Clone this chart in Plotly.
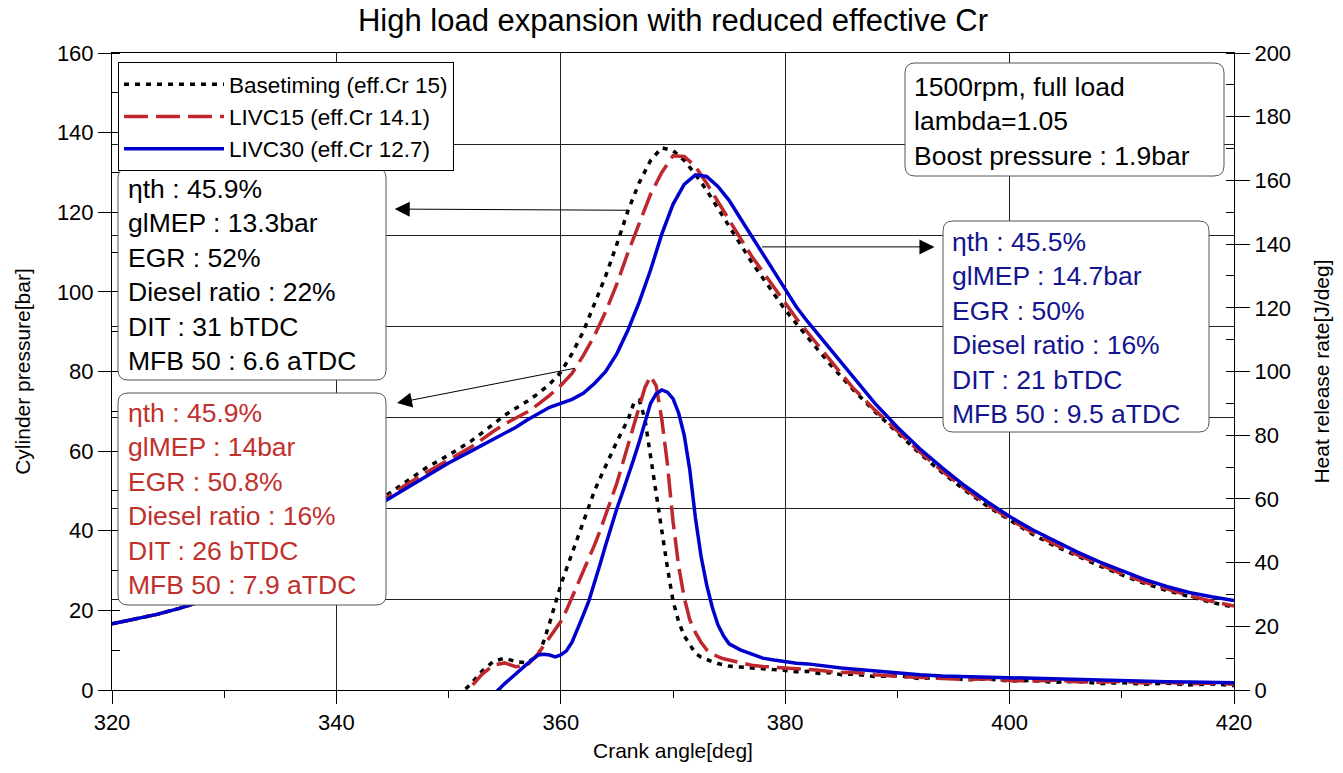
import plotly.graph_objects as go

# ---- cylinder pressure [bar] vs crank angle [deg]
crank_p = ([320, 322, 324, 326, 328, 330, 332, 334, 336, 338, 340, 342, 344, 346, 348, 350, 352, 354]
           + list(range(355, 387))
           + [388, 390, 392, 394, 396, 398, 400, 402, 404, 406, 408, 410, 412, 414, 416, 418, 420])

p_base = [16.6, 17.7, 19.0, 20.5, 22.2, 24.1, 26.3, 28.8, 31.7, 35.0, 38.7, 43.0, 48.0, 52.0, 55.8, 59.0, 62.5, 66.8,
          69.0, 70.8, 72.5, 74.5, 76.8, 79.8, 84.5, 90.0, 97.0, 104.0, 112.0, 120.5, 127.5, 133.0, 136.2, 135.5,
          133.0, 129.5, 125.5, 121.0, 116.5, 112.0, 107.5, 103.5, 99.5, 95.5, 92.0, 88.5, 85.0, 81.8, 78.7, 75.6,
          69.9, 64.5, 59.4, 54.6, 50.2, 46.2, 42.6, 39.2, 36.2, 33.6, 31.2, 28.9, 26.8, 25.0, 23.4, 22.0, 20.8]

p_livc15 = [16.6, 17.7, 19.0, 20.5, 22.2, 24.1, 26.3, 28.8, 31.7, 34.9, 38.5, 42.6, 47.4, 51.2, 54.6, 57.8, 61.0, 65.0,
            66.8, 68.3, 69.8, 71.8, 74.0, 76.5, 79.5, 84.0, 89.0, 95.0, 102.0, 110.0, 117.5, 124.5, 130.0, 134.2,
            134.0, 131.5, 127.3, 122.6, 118.0, 113.5, 109.0, 105.0, 101.0, 97.0, 93.3, 89.8, 86.3, 83.0, 79.6, 76.0,
            70.3, 64.9, 59.8, 55.0, 50.6, 46.6, 42.9, 39.6, 36.6, 34.0, 31.5, 29.2, 27.1, 25.3, 23.7, 22.3, 21.1]

p_livc30 = [16.6, 17.7, 19.0, 20.5, 22.2, 24.1, 26.3, 28.8, 31.7, 34.8, 38.3, 42.3, 46.9, 50.2, 53.6, 57.0, 60.0, 63.0,
            64.6, 66.0, 67.8, 69.5, 71.0, 72.0, 73.0, 74.5, 77.0, 80.0, 84.5, 90.5, 97.5, 105.5, 114.5, 122.0,
            127.0, 129.4, 129.0, 126.5, 123.0, 118.5, 114.0, 109.5, 105.0, 100.5, 96.2, 92.5, 89.1, 85.6, 82.0, 78.6,
            72.0, 66.0, 60.6, 55.8, 51.3, 47.3, 43.6, 40.3, 37.4, 34.7, 32.2, 30.0, 27.8, 26.0, 24.5, 23.4, 22.5]

# ---- heat release rate [J/deg]
crank_h = ([350, 351, 352, 353, 354, 355, 356, 357]
           + [358 + 0.5 * i for i in range(35)]
           + list(range(376, 387))
           + [388, 390, 392, 394, 396, 398, 400, 402, 404, 406, 408, 410, 412, 414, 416, 418, 420])

h_base = [-4, -1.5, 2, 6, 9, 10, 8.9, 8.5,
          11.0, 15.5, 21.0, 27.0, 33.0, 38.0, 43.0, 48.0, 53.0, 58.0,
          62.5, 66.5, 70.5, 74.5, 78.0, 81.5, 85.0, 90.0, 91.0, 85.0,
          73.0, 62.0, 50.0, 38.5, 28.0, 21.5, 17.0, 14.0, 11.5, 10.3,
          9.5, 8.9, 8.3, 7.9, 7.5,
          7.2, 7.0, 6.6, 6.4, 6.1, 5.7, 5.9, 5.2, 5.5, 4.8, 5.0,
          4.2, 4.5, 3.6, 3.9, 3.2, 3.5, 2.8, 3.0, 2.4, 2.7, 2.0, 2.3, 1.8, 2.1, 1.6, 1.9, 1.4]

h_livc15 = [-5, -2, 1, 5, 7.8, 8.5, 7.3, 7.8,
            11.5, 14.0, 16.5, 19.0, 21.5, 25.0, 29.0, 33.0, 37.0, 41.0,
            45.5, 50.0, 55.0, 60.0, 65.0, 71.0, 77.0, 83.0, 89.0, 95.0,
            98.5, 95.5, 85.0, 71.0, 53.0, 39.0, 29.0, 22.0, 18.0, 15.0,
            12.6, 11.3, 10.5, 9.8, 9.4,
            8.5, 7.8, 7.4, 7.2, 6.9, 6.6, 6.5, 6.2, 5.8, 5.5, 5.6,
            4.8, 4.3, 4.0, 3.6, 3.3, 3.5, 3.0, 2.8, 3.1, 2.6, 2.4, 2.7, 2.2, 2.4, 1.9, 2.2, 1.8]

h_livc30 = [-8, -7, -6, -4, -1.5, 2.0, 5.2, 8.2,
            11.0, 11.2, 11.0, 10.4, 11.0, 12.3, 15.0, 19.0, 23.5, 28.0,
            33.5, 39.5, 45.5, 51.5, 57.0, 62.0, 67.0, 72.5, 78.0, 84.0,
            90.0, 93.0, 94.2, 93.5, 91.5, 87.0, 80.0, 69.0, 54.0, 42.0,
            33.0, 26.0, 20.5, 17.0, 14.5,
            12.6, 11.2, 10.0, 9.4, 8.8, 8.4, 8.2, 7.7, 7.2, 6.9, 6.6,
            6.0, 5.3, 4.8, 4.4, 4.2, 4.0, 3.9, 3.6, 3.4, 3.3, 3.0, 2.9, 2.8, 2.6, 2.5, 2.4, 2.3]

names = ["Basetiming (eff.Cr 15)", "LIVC15 (eff.Cr 14.1)", "LIVC30 (eff.Cr 12.7)"]

box_base = ["ηth : 45.9%", "glMEP : 13.3bar", "EGR : 52%", "Diesel ratio : 22%", "DIT : 31 bTDC", "MFB 50 : 6.6 aTDC"]
box_livc15 = ["ηth : 45.9%", "glMEP : 14bar", "EGR : 50.8%", "Diesel ratio : 16%", "DIT : 26 bTDC", "MFB 50 : 7.9 aTDC"]
box_livc30 = ["ηth : 45.5%", "glMEP : 14.7bar", "EGR : 50%", "Diesel ratio : 16%", "DIT : 21 bTDC", "MFB 50 : 9.5 aTDC"]
box_cond = ["1500rpm, full load", "lambda=1.05", "Boost pressure : 1.9bar"]

FONT = "Liberation Sans, Arial, sans-serif"
RED = "#BE282D"
BLUE = "#0000CD"
RED_TXT = "#C0302C"
BLUE_TXT = "#14148F"

# plot area in pixels
L, R, T, B = 112, 1234, 53, 690


def paper(xp, yp):
    return (xp - L) / (R - L), (B - yp) / (B - T)


def rounded_box(x0, y0, x1, y1, r=10):
    a, b = paper(x0, y0)
    c, d = paper(x1, y1)
    rx, ry = r / (R - L), r / (B - T)
    path = (f"M{a+rx},{b} L{c-rx},{b} Q{c},{b} {c},{b-ry} L{c},{d+ry} Q{c},{d} {c-rx},{d} "
            f"L{a+rx},{d} Q{a},{d} {a},{d+ry} L{a},{b-ry} Q{a},{b} {a+rx},{b} Z")
    return dict(type="path", path=path, xref="paper", yref="paper", layer="above",
                fillcolor="white", line=dict(color="#555555", width=1))


def text_box(lines, color, xp, yp):
    x, y = paper(xp, yp)
    return dict(text="<br>".join(lines), x=x, y=y, xref="paper", yref="paper",
                xanchor="left", yanchor="middle", align="left", showarrow=False,
                font=dict(family=FONT, size=26.5, color=color))


fig = go.Figure()

styles = [dict(color="black", width=3.5, dash="5px,6px"),
          dict(color=RED, width=3.5, dash="24px,8px"),
          dict(color=BLUE, width=3.5)]
pres = [p_base, p_livc15, p_livc30]
hrr = [h_base, h_livc15, h_livc30]

for i in range(3):
    fig.add_trace(go.Scatter(x=crank_p, y=pres[i], mode="lines", name=names[i],
                             line=styles[i], legendgroup=str(i), yaxis="y"))
for i in range(3):
    fig.add_trace(go.Scatter(x=crank_h, y=hrr[i], mode="lines", name=names[i],
                             line=styles[i], legendgroup=str(i), showlegend=False, yaxis="y2"))
# empty trace so the grid-only axis gets drawn
fig.add_trace(go.Scatter(x=[None], y=[None], yaxis="y3", showlegend=False, hoverinfo="skip"))

shapes = [rounded_box(118, 168, 386, 380),
          rounded_box(118, 393, 386, 605),
          rounded_box(943, 221, 1209, 432),
          rounded_box(905, 63, 1224, 176)]

arrow = dict(text="", showarrow=True, arrowhead=2, arrowsize=3, arrowwidth=1,
             arrowcolor="black", xref="x", yref="y", axref="x", ayref="y", standoff=0, startstandoff=0)

annotations = [
    text_box(box_base, "black", 126, 275),
    text_box(box_livc15, RED_TXT, 126, 499),
    text_box(box_livc30, BLUE_TXT, 950, 328),
    text_box(box_cond, "black", 912, 121.5),
    dict(arrow, x=345.2, y=120.8, ax=366, ay=p_base[crank_p.index(366)]),
    dict(arrow, x=345.4, y=72.1, ax=361.4, ay=80.9),
    dict(arrow, x=393.3, y=111.3, ax=377.8, ay=111.3),
]

axis_common = dict(showline=True, linecolor="black", linewidth=1, zeroline=False,
                   tickfont=dict(family=FONT, size=22, color="black"), tickcolor="black",
                   tickwidth=1, automargin=False)

fig.update_layout(
    width=1343, height=773,
    margin=dict(l=L, r=1343 - R, t=T, b=773 - B),
    paper_bgcolor="white", plot_bgcolor="white",
    font=dict(family=FONT, color="black"),
    title=dict(text="High load expansion with reduced effective Cr", x=0.5, xref="paper",
               y=0.974, yanchor="middle", font=dict(family=FONT, size=31, color="black")),
    xaxis=dict(axis_common, range=[320, 420], dtick=20, tick0=320, ticks="outside", ticklen=13,
               minor=dict(dtick=10, ticks="outside", ticklen=7, tickcolor="black", showgrid=False),
               showgrid=True, gridcolor="#222222", gridwidth=1, mirror=True,
               title=dict(text="Crank angle[deg]", standoff=8, font=dict(family=FONT, size=21))),
    yaxis=dict(axis_common, range=[0, 160], dtick=20, ticks="outside", ticklen=13,
               minor=dict(dtick=10, ticks="inside", ticklen=8, tickcolor="black", showgrid=False),
               showgrid=False,
               title=dict(text="Cylinder pressure[bar]", standoff=20, font=dict(family=FONT, size=21))),
    yaxis2=dict(axis_common, range=[0, 200], dtick=20, ticks="outside", ticklen=15,
                minor=dict(dtick=10, ticks="inside", ticklen=8, tickcolor="black", showgrid=False),
                showgrid=False, overlaying="y", side="right",
                title=dict(text="Heat release rate[J/deg]", standoff=24, font=dict(family=FONT, size=21))),
    yaxis3=dict(range=[0, 7], dtick=1, tick0=0, overlaying="y", showgrid=True, gridcolor="#222222",
                gridwidth=1, showticklabels=False, ticks="", showline=False, zeroline=False),
    legend=dict(x=paper(118, 62)[0], y=paper(118, 62)[1], xanchor="left", yanchor="top",
                bgcolor="white", bordercolor="black", borderwidth=1, itemwidth=100,
                traceorder="grouped", tracegroupgap=0,
                font=dict(family=FONT, size=22.5, color="black")),
    shapes=shapes,
    annotations=annotations,
    showlegend=True,
)

fig.write_html("out.html", config={"displayModeBar": False},
               post_script="document.body.style.margin='0px';")
